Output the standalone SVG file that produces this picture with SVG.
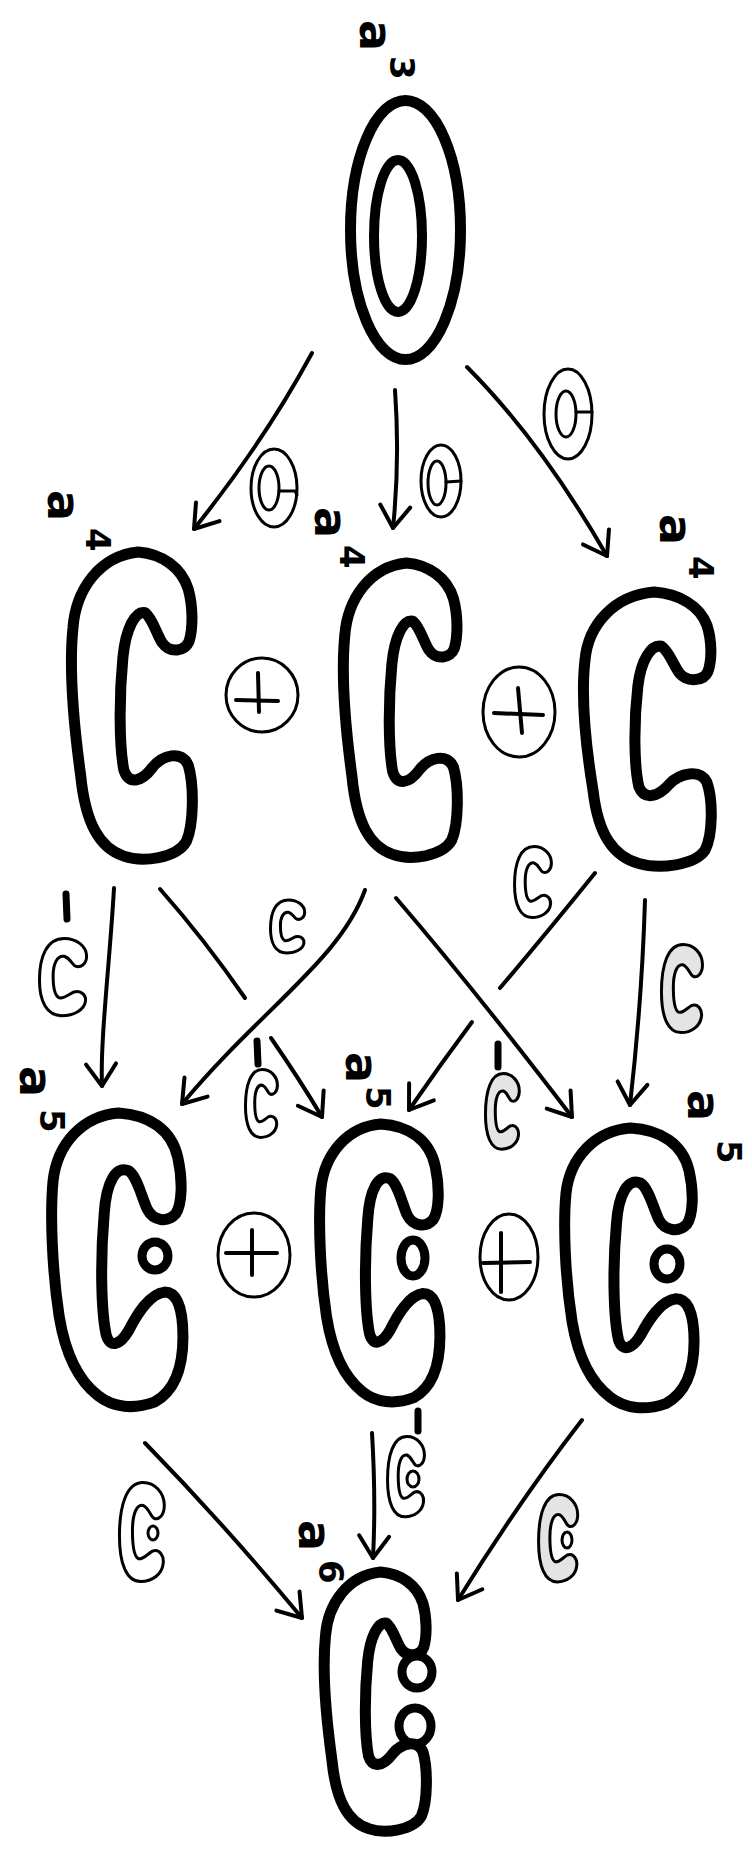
<svg xmlns="http://www.w3.org/2000/svg" xmlns:xlink="http://www.w3.org/1999/xlink" width="752" height="1850" viewBox="0 0 752 1850">
<style>
.n{fill:none;stroke:#000;stroke-width:11;stroke-linejoin:round}
.dot{fill:none;stroke:#000;stroke-width:9}
.e{fill:none;stroke:#000;stroke-width:4;stroke-linecap:round}
.l{fill:none;stroke:#000;stroke-width:3;stroke-linejoin:round;stroke-linecap:round}
.sh{fill:#e4e4e4}
.bar{stroke:#000;stroke-width:7;stroke-linecap:round}
.op{fill:none;stroke:#000;stroke-width:3}
.pl{stroke:#000;stroke-width:4;stroke-linecap:round}
.t{font-family:"DejaVu Sans",sans-serif;font-weight:bold;fill:#000}
.ta{font-size:46px}
.td{font-size:34px}
</style>
<defs>
<path id="C" vector-effect="non-scaling-stroke" d="M75,2 C100,4 120,18 127,40 C132,58 132,80 128,93 C124,104 108,106 100,95 C94,86 90,70 82,64 C72,62 62,80 59,110 C55,150 55,200 60,225 C65,240 78,238 90,222 C100,210 120,204 127,220 C133,240 133,280 125,298 C115,315 80,320 60,313 C35,305 20,280 15,230 C8,180 3,120 7,80 C10,40 35,6 75,2 Z"/>
<path id="Cd" vector-effect="non-scaling-stroke" d="M70,2 C100,4 122,20 128,50 C133,75 132,100 126,110 C118,120 104,118 98,105 C92,90 88,70 80,64 C68,58 58,75 56,110 C52,160 53,215 58,240 C62,255 72,250 80,235 C88,218 100,196 115,194 C128,194 133,214 133,242 C133,275 125,300 105,312 C85,320 65,318 50,305 C30,288 18,260 12,220 C5,170 3,110 6,75 C10,35 35,5 70,2 Z"/>
<path id="sc" vector-effect="non-scaling-stroke" d="M22,2 C32,2 40,10 40,20 C40,28 35,32 31,30 C28,28 27,22 22,20 C16,19 13,28 13,40 C13,52 14,60 18,62 C22,63 26,58 30,56 C36,54 40,60 39,66 C38,74 30,80 20,80 C8,80 2,66 2,44 C2,20 8,2 22,2 Z"/>
<marker id="ah" viewBox="-26 -18 30 36" markerWidth="30" markerHeight="36" refX="0" refY="0" orient="auto" markerUnits="userSpaceOnUse">
<path d="M-22,-15 L0,0 L-22,15" fill="none" stroke="#000" stroke-width="4" stroke-linecap="round" stroke-linejoin="round"/>
</marker>
</defs>
<rect width="752" height="1850" fill="#fff"/>

<g id="connectors">
<path class="e" d="M312,353 Q265,440 194,529" marker-end="url(#ah)"/>
<path class="e" d="M395,390 Q400,460 393,528" marker-end="url(#ah)"/>
<path class="e" d="M467,367 Q540,440 607,556" marker-end="url(#ah)"/>

<path class="e" d="M114,888 C110,960 100,1040 102,1086" marker-end="url(#ah)"/>
<path class="e" d="M160,889 Q205,940 245,998"/>
<path class="e" d="M271,1038 Q300,1080 322,1117" marker-end="url(#ah)"/>
<path class="e" d="M365,890 C340,960 260,1010 182,1104" marker-end="url(#ah)"/>
<path class="e" d="M396,898 Q475,990 572,1117" marker-end="url(#ah)"/>
<path class="e" d="M595,873 Q545,935 500,988"/>
<path class="e" d="M472,1022 Q440,1065 409,1110" marker-end="url(#ah)"/>
<path class="e" d="M645,900 Q642,1000 630,1105" marker-end="url(#ah)"/>

<path class="e" d="M145,1443 Q225,1525 302,1618" marker-end="url(#ah)"/>
<path class="e" d="M372,1433 Q376,1500 373,1558" marker-end="url(#ah)"/>
<path class="e" d="M582,1420 Q520,1500 458,1600" marker-end="url(#ah)"/>
</g>

<g id="edge-labels">
<g id="lbl-o1"><ellipse class="op" cx="274" cy="488" rx="23" ry="39"/><ellipse class="op" cx="269" cy="488" rx="10" ry="22"/><path class="l" d="M279,491 L295,491 l2,4"/></g>
<g id="lbl-o2"><ellipse class="op" cx="441" cy="481" rx="20" ry="36"/><ellipse class="op" cx="437" cy="483" rx="9" ry="22"/><path class="l" d="M446,482 L461,481"/></g>
<g id="lbl-o3"><ellipse class="op" cx="568" cy="414" rx="24" ry="45"/><ellipse class="op" cx="566" cy="414" rx="10" ry="23"/><path class="l" d="M576,412 L592,412"/></g>

<g id="lbl-c1"><line class="bar" x1="66" y1="894" x2="67" y2="919"/><use xlink:href="#sc" class="l" transform="translate(37 936.5) scale(1.24 0.99)"/></g>
<g id="lbl-c2"><use xlink:href="#sc" class="l" transform="translate(268.7 898.6) scale(0.9 0.68)"/></g>
<g id="lbl-c3"><use xlink:href="#sc" class="l" transform="translate(512.6 844.7) scale(0.97 0.91)"/></g>
<g id="lbl-c4"><use xlink:href="#sc" class="l sh" transform="translate(659.3 942.2) scale(1.08 1.13)"/></g>
<g id="lbl-c5"><line class="bar" x1="257" y1="1041" x2="258" y2="1064"/><use xlink:href="#sc" class="l" transform="translate(243.8 1067.8) scale(0.84 0.87)"/></g>
<g id="lbl-c6"><line class="bar" x1="498" y1="1044" x2="498" y2="1067"/><use xlink:href="#sc" class="l sh" transform="translate(483.7 1071.6) scale(0.89 0.97)"/></g>

<g id="lbl-d1"><use xlink:href="#sc" class="l" transform="translate(117.1 1480) scale(1.18 1.27)"/><ellipse class="op" cx="153" cy="1533" rx="5" ry="7"/></g>
<g id="lbl-d2"><line class="bar" x1="418" y1="1411" x2="418" y2="1431"/><use xlink:href="#sc" class="l" transform="translate(385.6 1434.4) scale(0.97 1.03)"/><ellipse class="op" cx="413" cy="1479" rx="6" ry="8"/></g>
<g id="lbl-d3"><use xlink:href="#sc" class="l sh" transform="translate(536.5 1492.3) scale(1.03 1.12)"/><ellipse class="op" cx="567" cy="1540" rx="5" ry="8"/></g>
</g>

<g id="n-a3">
<ellipse class="n" cx="405.5" cy="230" rx="55" ry="129.5"/>
<ellipse class="n" cx="398" cy="236" rx="24" ry="76" style="stroke-width:10"/>
<text class="t ta" x="360" y="20" rotate="90">a</text>
<text class="t td" x="390" y="56" rotate="90">3</text>
</g>

<g id="n-a4-left">
<use xlink:href="#C" class="n" transform="translate(66.2 550) scale(0.961 0.978)"/>
<text class="t ta" x="48" y="490" rotate="90">a</text>
<text class="t td" x="86" y="528" rotate="90">4</text>
</g>
<g id="n-a4-mid">
<use xlink:href="#C" class="n" transform="translate(338.4 561.1) scale(0.906 0.937)"/>
<text class="t ta" x="315" y="507" rotate="90">a</text>
<text class="t td" x="340" y="545" rotate="90">4</text>
</g>
<g id="n-a4-right">
<use xlink:href="#C" class="n" transform="translate(577.9 590.3) scale(1.016 0.873)"/>
<text class="t ta" x="660" y="514" rotate="90">a</text>
<text class="t td" x="689" y="556" rotate="90">4</text>
</g>

<g id="oplus-1"><ellipse class="op" cx="262" cy="695" rx="36" ry="37"/><line class="pl" x1="258" y1="673" x2="259" y2="712"/><line class="pl" x1="236" y1="700" x2="278" y2="701"/></g>
<g id="oplus-2"><ellipse class="op" cx="519" cy="712" rx="36" ry="45"/><line class="pl" x1="518" y1="688" x2="522" y2="733"/><line class="pl" x1="494" y1="713" x2="543" y2="715"/></g>

<g id="n-a5-left">
<use xlink:href="#Cd" class="n" transform="translate(46.9 1111.1) scale(1.023 0.933)"/>
<ellipse class="dot" cx="155" cy="1256" rx="13" ry="14"/>
<text class="t ta" x="20" y="1066" rotate="90">a</text>
<text class="t td" x="40" y="1109" rotate="90">5</text>
</g>
<g id="n-a5-mid">
<use xlink:href="#Cd" class="n" transform="translate(315.25 1122.2) scale(0.9375 0.883)"/>
<ellipse class="dot" cx="413" cy="1258" rx="12" ry="18"/>
<text class="t ta" x="346" y="1052" rotate="90">a</text>
<text class="t td" x="366" y="1086" rotate="90">5</text>
</g>
<g id="n-a5-right">
<use xlink:href="#Cd" class="n" transform="translate(560 1126.2) scale(1.008 0.889)"/>
<ellipse class="dot" cx="667" cy="1264" rx="13" ry="15"/>
<text class="t ta" x="688" y="1090" rotate="90">a</text>
<text class="t td" x="717" y="1140" rotate="90">5</text>
</g>

<g id="oplus-3"><ellipse class="op" cx="254" cy="1255" rx="36" ry="42"/><line class="pl" x1="252" y1="1230" x2="252" y2="1275"/><line class="pl" x1="226" y1="1253" x2="277" y2="1253"/></g>
<g id="oplus-4"><ellipse class="op" cx="509" cy="1257" rx="29" ry="43"/><line class="pl" x1="501" y1="1233" x2="501" y2="1292"/><line class="pl" x1="483" y1="1263" x2="530" y2="1262"/></g>

<g id="n-a6">
<use xlink:href="#C" class="n" transform="translate(319.75 1570.35) scale(0.8125 0.825)"/>
<ellipse class="dot" cx="417" cy="1672" rx="15" ry="16"/>
<ellipse class="dot" cx="415" cy="1726" rx="16" ry="18"/>
<text class="t ta" x="299" y="1520" rotate="90">a</text>
<text class="t td" x="319" y="1560" rotate="90">6</text>
</g>
</svg>
